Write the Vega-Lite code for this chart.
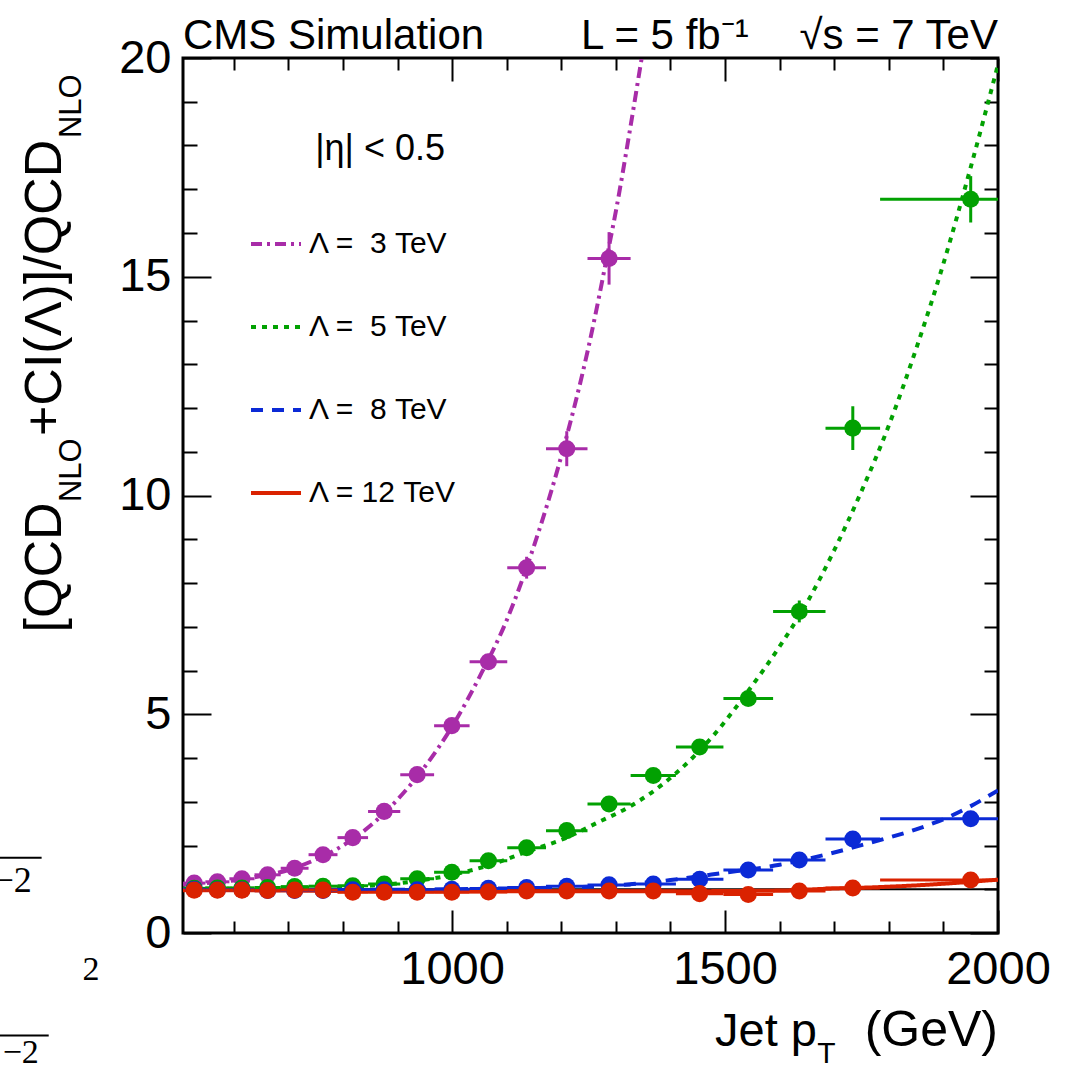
{
  "$schema": "https://vega.github.io/schema/vega-lite/v6.json",
  "width": 815,
  "height": 875,
  "autosize": "none",
  "padding": {"left": 183, "top": 58, "right": 74, "bottom": 139},
  "background": "white",
  "config": {
    "view": {"stroke": "black", "strokeWidth": 3},
    "font": "Liberation Sans",
    "axis": {"domain": false, "grid": false, "title": null, "tickColor": "black", "tickWidth": 2, "labelColor": "black", "labelFont": "Liberation Sans", "labelFlush": false, "labelOverlap": false, "format": "d"}
  },
  "datasets": {
    "one": [{"k": 1}],
    "pts": [
      {"s": "Λ = \u00a03 TeV", "x": 527.5, "xlo": 507, "xhi": 548, "y": 1.14, "ylo": 1.09, "yhi": 1.19},
      {"s": "Λ = \u00a03 TeV", "x": 570, "xlo": 548, "xhi": 592, "y": 1.17, "ylo": 1.12, "yhi": 1.22},
      {"s": "Λ = \u00a03 TeV", "x": 615, "xlo": 592, "xhi": 638, "y": 1.24, "ylo": 1.19, "yhi": 1.29},
      {"s": "Λ = \u00a03 TeV", "x": 662, "xlo": 638, "xhi": 686, "y": 1.33, "ylo": 1.28, "yhi": 1.38},
      {"s": "Λ = \u00a03 TeV", "x": 711.5, "xlo": 686, "xhi": 737, "y": 1.48, "ylo": 1.43, "yhi": 1.53},
      {"s": "Λ = \u00a03 TeV", "x": 763.5, "xlo": 737, "xhi": 790, "y": 1.79, "ylo": 1.73, "yhi": 1.85},
      {"s": "Λ = \u00a03 TeV", "x": 818, "xlo": 790, "xhi": 846, "y": 2.18, "ylo": 2.11, "yhi": 2.25},
      {"s": "Λ = \u00a03 TeV", "x": 875.5, "xlo": 846, "xhi": 905, "y": 2.78, "ylo": 2.7, "yhi": 2.86},
      {"s": "Λ = \u00a03 TeV", "x": 936, "xlo": 905, "xhi": 967, "y": 3.62, "ylo": 3.52, "yhi": 3.72},
      {"s": "Λ = \u00a03 TeV", "x": 999.5, "xlo": 967, "xhi": 1032, "y": 4.74, "ylo": 4.62, "yhi": 4.86},
      {"s": "Λ = \u00a03 TeV", "x": 1066.5, "xlo": 1032, "xhi": 1101, "y": 6.2, "ylo": 6.02, "yhi": 6.38},
      {"s": "Λ = \u00a03 TeV", "x": 1136.5, "xlo": 1101, "xhi": 1172, "y": 8.35, "ylo": 8.1, "yhi": 8.6},
      {"s": "Λ = \u00a03 TeV", "x": 1210, "xlo": 1172, "xhi": 1248, "y": 11.07, "ylo": 10.67, "yhi": 11.47},
      {"s": "Λ = \u00a03 TeV", "x": 1287.5, "xlo": 1248, "xhi": 1327, "y": 15.42, "ylo": 14.82, "yhi": 16.02},
      {"s": "Λ = \u00a05 TeV", "x": 527.5, "xlo": 507, "xhi": 548, "y": 1.02, "ylo": 0.98, "yhi": 1.06},
      {"s": "Λ = \u00a05 TeV", "x": 570, "xlo": 548, "xhi": 592, "y": 1.03, "ylo": 0.99, "yhi": 1.07},
      {"s": "Λ = \u00a05 TeV", "x": 615, "xlo": 592, "xhi": 638, "y": 1.03, "ylo": 0.99, "yhi": 1.07},
      {"s": "Λ = \u00a05 TeV", "x": 662, "xlo": 638, "xhi": 686, "y": 1.04, "ylo": 1.0, "yhi": 1.08},
      {"s": "Λ = \u00a05 TeV", "x": 711.5, "xlo": 686, "xhi": 737, "y": 1.06, "ylo": 1.02, "yhi": 1.1},
      {"s": "Λ = \u00a05 TeV", "x": 763.5, "xlo": 737, "xhi": 790, "y": 1.07, "ylo": 1.03, "yhi": 1.11},
      {"s": "Λ = \u00a05 TeV", "x": 818, "xlo": 790, "xhi": 846, "y": 1.08, "ylo": 1.04, "yhi": 1.12},
      {"s": "Λ = \u00a05 TeV", "x": 875.5, "xlo": 846, "xhi": 905, "y": 1.12, "ylo": 1.08, "yhi": 1.16},
      {"s": "Λ = \u00a05 TeV", "x": 936, "xlo": 905, "xhi": 967, "y": 1.24, "ylo": 1.19, "yhi": 1.29},
      {"s": "Λ = \u00a05 TeV", "x": 999.5, "xlo": 967, "xhi": 1032, "y": 1.39, "ylo": 1.34, "yhi": 1.44},
      {"s": "Λ = \u00a05 TeV", "x": 1066.5, "xlo": 1032, "xhi": 1101, "y": 1.65, "ylo": 1.59, "yhi": 1.71},
      {"s": "Λ = \u00a05 TeV", "x": 1136.5, "xlo": 1101, "xhi": 1172, "y": 1.95, "ylo": 1.88, "yhi": 2.02},
      {"s": "Λ = \u00a05 TeV", "x": 1210, "xlo": 1172, "xhi": 1248, "y": 2.34, "ylo": 2.26, "yhi": 2.42},
      {"s": "Λ = \u00a05 TeV", "x": 1287.5, "xlo": 1248, "xhi": 1327, "y": 2.95, "ylo": 2.86, "yhi": 3.04},
      {"s": "Λ = \u00a05 TeV", "x": 1368.5, "xlo": 1327, "xhi": 1410, "y": 3.6, "ylo": 3.5, "yhi": 3.7},
      {"s": "Λ = \u00a05 TeV", "x": 1453.5, "xlo": 1410, "xhi": 1497, "y": 4.25, "ylo": 4.13, "yhi": 4.37},
      {"s": "Λ = \u00a05 TeV", "x": 1542.5, "xlo": 1497, "xhi": 1588, "y": 5.36, "ylo": 5.21, "yhi": 5.51},
      {"s": "Λ = \u00a05 TeV", "x": 1636, "xlo": 1588, "xhi": 1684, "y": 7.35, "ylo": 7.1, "yhi": 7.6},
      {"s": "Λ = \u00a05 TeV", "x": 1734, "xlo": 1684, "xhi": 1784, "y": 11.54, "ylo": 11.04, "yhi": 12.04},
      {"s": "Λ = \u00a05 TeV", "x": 1950, "xlo": 1784, "xhi": 2116, "y": 16.77, "ylo": 16.24, "yhi": 17.3},
      {"s": "Λ = \u00a08 TeV", "x": 527.5, "xlo": 507, "xhi": 548, "y": 1.0, "ylo": 0.97, "yhi": 1.03},
      {"s": "Λ = \u00a08 TeV", "x": 570, "xlo": 548, "xhi": 592, "y": 0.99, "ylo": 0.96, "yhi": 1.02},
      {"s": "Λ = \u00a08 TeV", "x": 615, "xlo": 592, "xhi": 638, "y": 0.99, "ylo": 0.96, "yhi": 1.02},
      {"s": "Λ = \u00a08 TeV", "x": 662, "xlo": 638, "xhi": 686, "y": 0.97, "ylo": 0.94, "yhi": 1.0},
      {"s": "Λ = \u00a08 TeV", "x": 711.5, "xlo": 686, "xhi": 737, "y": 0.97, "ylo": 0.94, "yhi": 1.0},
      {"s": "Λ = \u00a08 TeV", "x": 763.5, "xlo": 737, "xhi": 790, "y": 0.97, "ylo": 0.94, "yhi": 1.0},
      {"s": "Λ = \u00a08 TeV", "x": 818, "xlo": 790, "xhi": 846, "y": 0.99, "ylo": 0.96, "yhi": 1.02},
      {"s": "Λ = \u00a08 TeV", "x": 875.5, "xlo": 846, "xhi": 905, "y": 0.99, "ylo": 0.96, "yhi": 1.02},
      {"s": "Λ = \u00a08 TeV", "x": 936, "xlo": 905, "xhi": 967, "y": 0.99, "ylo": 0.96, "yhi": 1.02},
      {"s": "Λ = \u00a08 TeV", "x": 999.5, "xlo": 967, "xhi": 1032, "y": 1.0, "ylo": 0.97, "yhi": 1.03},
      {"s": "Λ = \u00a08 TeV", "x": 1066.5, "xlo": 1032, "xhi": 1101, "y": 1.02, "ylo": 0.99, "yhi": 1.05},
      {"s": "Λ = \u00a08 TeV", "x": 1136.5, "xlo": 1101, "xhi": 1172, "y": 1.04, "ylo": 1.01, "yhi": 1.07},
      {"s": "Λ = \u00a08 TeV", "x": 1210, "xlo": 1172, "xhi": 1248, "y": 1.07, "ylo": 1.04, "yhi": 1.1},
      {"s": "Λ = \u00a08 TeV", "x": 1287.5, "xlo": 1248, "xhi": 1327, "y": 1.1, "ylo": 1.06, "yhi": 1.14},
      {"s": "Λ = \u00a08 TeV", "x": 1368.5, "xlo": 1327, "xhi": 1410, "y": 1.12, "ylo": 1.08, "yhi": 1.16},
      {"s": "Λ = \u00a08 TeV", "x": 1453.5, "xlo": 1410, "xhi": 1497, "y": 1.23, "ylo": 1.18, "yhi": 1.28},
      {"s": "Λ = \u00a08 TeV", "x": 1542.5, "xlo": 1497, "xhi": 1588, "y": 1.44, "ylo": 1.39, "yhi": 1.49},
      {"s": "Λ = \u00a08 TeV", "x": 1636, "xlo": 1588, "xhi": 1684, "y": 1.67, "ylo": 1.61, "yhi": 1.73},
      {"s": "Λ = \u00a08 TeV", "x": 1734, "xlo": 1684, "xhi": 1784, "y": 2.15, "ylo": 2.07, "yhi": 2.23},
      {"s": "Λ = \u00a08 TeV", "x": 1950, "xlo": 1784, "xhi": 2116, "y": 2.61, "ylo": 2.51, "yhi": 2.71},
      {"s": "Λ = 12 TeV", "x": 527.5, "xlo": 507, "xhi": 548, "y": 0.98, "ylo": 0.95, "yhi": 1.01},
      {"s": "Λ = 12 TeV", "x": 570, "xlo": 548, "xhi": 592, "y": 0.98, "ylo": 0.95, "yhi": 1.01},
      {"s": "Λ = 12 TeV", "x": 615, "xlo": 592, "xhi": 638, "y": 0.98, "ylo": 0.95, "yhi": 1.01},
      {"s": "Λ = 12 TeV", "x": 662, "xlo": 638, "xhi": 686, "y": 0.97, "ylo": 0.94, "yhi": 1.0},
      {"s": "Λ = 12 TeV", "x": 711.5, "xlo": 686, "xhi": 737, "y": 0.98, "ylo": 0.95, "yhi": 1.01},
      {"s": "Λ = 12 TeV", "x": 763.5, "xlo": 737, "xhi": 790, "y": 0.98, "ylo": 0.95, "yhi": 1.01},
      {"s": "Λ = 12 TeV", "x": 818, "xlo": 790, "xhi": 846, "y": 0.93, "ylo": 0.9, "yhi": 0.96},
      {"s": "Λ = 12 TeV", "x": 875.5, "xlo": 846, "xhi": 905, "y": 0.93, "ylo": 0.9, "yhi": 0.96},
      {"s": "Λ = 12 TeV", "x": 936, "xlo": 905, "xhi": 967, "y": 0.93, "ylo": 0.9, "yhi": 0.96},
      {"s": "Λ = 12 TeV", "x": 999.5, "xlo": 967, "xhi": 1032, "y": 0.93, "ylo": 0.9, "yhi": 0.96},
      {"s": "Λ = 12 TeV", "x": 1066.5, "xlo": 1032, "xhi": 1101, "y": 0.94, "ylo": 0.91, "yhi": 0.97},
      {"s": "Λ = 12 TeV", "x": 1136.5, "xlo": 1101, "xhi": 1172, "y": 0.96, "ylo": 0.93, "yhi": 0.99},
      {"s": "Λ = 12 TeV", "x": 1210, "xlo": 1172, "xhi": 1248, "y": 0.96, "ylo": 0.93, "yhi": 0.99},
      {"s": "Λ = 12 TeV", "x": 1287.5, "xlo": 1248, "xhi": 1327, "y": 0.96, "ylo": 0.93, "yhi": 0.99},
      {"s": "Λ = 12 TeV", "x": 1368.5, "xlo": 1327, "xhi": 1410, "y": 0.96, "ylo": 0.93, "yhi": 0.99},
      {"s": "Λ = 12 TeV", "x": 1453.5, "xlo": 1410, "xhi": 1497, "y": 0.9, "ylo": 0.87, "yhi": 0.93},
      {"s": "Λ = 12 TeV", "x": 1542.5, "xlo": 1497, "xhi": 1588, "y": 0.88, "ylo": 0.85, "yhi": 0.91},
      {"s": "Λ = 12 TeV", "x": 1636, "xlo": 1588, "xhi": 1684, "y": 0.96, "ylo": 0.93, "yhi": 0.99},
      {"s": "Λ = 12 TeV", "x": 1734, "xlo": 1684, "xhi": 1784, "y": 1.03, "ylo": 0.99, "yhi": 1.07},
      {"s": "Λ = 12 TeV", "x": 1950, "xlo": 1784, "xhi": 2116, "y": 1.21, "ylo": 1.16, "yhi": 1.26}
    ],
    "cv": [
      {"s": "Λ = \u00a03 TeV", "x": 507, "y": 1.1},
      {"s": "Λ = \u00a03 TeV", "x": 550, "y": 1.14},
      {"s": "Λ = \u00a03 TeV", "x": 600, "y": 1.2},
      {"s": "Λ = \u00a03 TeV", "x": 650, "y": 1.3},
      {"s": "Λ = \u00a03 TeV", "x": 700, "y": 1.44},
      {"s": "Λ = \u00a03 TeV", "x": 750, "y": 1.68},
      {"s": "Λ = \u00a03 TeV", "x": 800, "y": 2.0},
      {"s": "Λ = \u00a03 TeV", "x": 850, "y": 2.45},
      {"s": "Λ = \u00a03 TeV", "x": 900, "y": 3.05},
      {"s": "Λ = \u00a03 TeV", "x": 950, "y": 3.8},
      {"s": "Λ = \u00a03 TeV", "x": 1000, "y": 4.72},
      {"s": "Λ = \u00a03 TeV", "x": 1050, "y": 5.85},
      {"s": "Λ = \u00a03 TeV", "x": 1100, "y": 7.15},
      {"s": "Λ = \u00a03 TeV", "x": 1150, "y": 8.85},
      {"s": "Λ = \u00a03 TeV", "x": 1200, "y": 10.9},
      {"s": "Λ = \u00a03 TeV", "x": 1250, "y": 13.4},
      {"s": "Λ = \u00a03 TeV", "x": 1287.5, "y": 15.7},
      {"s": "Λ = \u00a03 TeV", "x": 1300, "y": 16.5},
      {"s": "Λ = \u00a03 TeV", "x": 1325, "y": 18.3},
      {"s": "Λ = \u00a03 TeV", "x": 1350, "y": 20.2},
      {"s": "Λ = \u00a03 TeV", "x": 1365, "y": 21.3},
      {"s": "Λ = \u00a05 TeV", "x": 507, "y": 1.01},
      {"s": "Λ = \u00a05 TeV", "x": 600, "y": 1.01},
      {"s": "Λ = \u00a05 TeV", "x": 700, "y": 1.02},
      {"s": "Λ = \u00a05 TeV", "x": 800, "y": 1.05},
      {"s": "Λ = \u00a05 TeV", "x": 870, "y": 1.1},
      {"s": "Λ = \u00a05 TeV", "x": 930, "y": 1.18},
      {"s": "Λ = \u00a05 TeV", "x": 1000, "y": 1.33},
      {"s": "Λ = \u00a05 TeV", "x": 1068, "y": 1.55},
      {"s": "Λ = \u00a05 TeV", "x": 1135, "y": 1.85},
      {"s": "Λ = \u00a05 TeV", "x": 1208, "y": 2.17},
      {"s": "Λ = \u00a05 TeV", "x": 1269, "y": 2.54},
      {"s": "Λ = \u00a05 TeV", "x": 1324, "y": 2.88},
      {"s": "Λ = \u00a05 TeV", "x": 1410, "y": 3.65},
      {"s": "Λ = \u00a05 TeV", "x": 1477, "y": 4.49},
      {"s": "Λ = \u00a05 TeV", "x": 1544, "y": 5.56},
      {"s": "Λ = \u00a05 TeV", "x": 1600, "y": 6.55},
      {"s": "Λ = \u00a05 TeV", "x": 1650, "y": 7.55},
      {"s": "Λ = \u00a05 TeV", "x": 1700, "y": 8.75},
      {"s": "Λ = \u00a05 TeV", "x": 1750, "y": 10.1},
      {"s": "Λ = \u00a05 TeV", "x": 1800, "y": 11.6},
      {"s": "Λ = \u00a05 TeV", "x": 1850, "y": 13.35},
      {"s": "Λ = \u00a05 TeV", "x": 1900, "y": 15.3},
      {"s": "Λ = \u00a05 TeV", "x": 1950, "y": 17.5},
      {"s": "Λ = \u00a05 TeV", "x": 2000, "y": 19.85},
      {"s": "Λ = \u00a08 TeV", "x": 507, "y": 1.0},
      {"s": "Λ = \u00a08 TeV", "x": 700, "y": 0.99},
      {"s": "Λ = \u00a08 TeV", "x": 900, "y": 0.99},
      {"s": "Λ = \u00a08 TeV", "x": 1000, "y": 1.0},
      {"s": "Λ = \u00a08 TeV", "x": 1100, "y": 1.02},
      {"s": "Λ = \u00a08 TeV", "x": 1200, "y": 1.04},
      {"s": "Λ = \u00a08 TeV", "x": 1300, "y": 1.09},
      {"s": "Λ = \u00a08 TeV", "x": 1400, "y": 1.21},
      {"s": "Λ = \u00a08 TeV", "x": 1450, "y": 1.29},
      {"s": "Λ = \u00a08 TeV", "x": 1500, "y": 1.38},
      {"s": "Λ = \u00a08 TeV", "x": 1550, "y": 1.46},
      {"s": "Λ = \u00a08 TeV", "x": 1600, "y": 1.56},
      {"s": "Λ = \u00a08 TeV", "x": 1650, "y": 1.69},
      {"s": "Λ = \u00a08 TeV", "x": 1700, "y": 1.84},
      {"s": "Λ = \u00a08 TeV", "x": 1750, "y": 2.01},
      {"s": "Λ = \u00a08 TeV", "x": 1800, "y": 2.18},
      {"s": "Λ = \u00a08 TeV", "x": 1850, "y": 2.37},
      {"s": "Λ = \u00a08 TeV", "x": 1900, "y": 2.6},
      {"s": "Λ = \u00a08 TeV", "x": 1950, "y": 2.9},
      {"s": "Λ = \u00a08 TeV", "x": 2000, "y": 3.26},
      {"s": "Λ = 12 TeV", "x": 507, "y": 0.98},
      {"s": "Λ = 12 TeV", "x": 700, "y": 0.97},
      {"s": "Λ = 12 TeV", "x": 800, "y": 0.96},
      {"s": "Λ = 12 TeV", "x": 1000, "y": 0.955},
      {"s": "Λ = 12 TeV", "x": 1200, "y": 0.955},
      {"s": "Λ = 12 TeV", "x": 1400, "y": 0.955},
      {"s": "Λ = 12 TeV", "x": 1600, "y": 0.97},
      {"s": "Λ = 12 TeV", "x": 1684, "y": 1.01},
      {"s": "Λ = 12 TeV", "x": 1784, "y": 1.05},
      {"s": "Λ = 12 TeV", "x": 1893, "y": 1.12},
      {"s": "Λ = 12 TeV", "x": 2000, "y": 1.22}
    ]
  },
  "resolve": {"axis": {"x": "independent", "y": "independent"}},
  "layer": [
    {
      "data": {"name": "one"},
      "mark": {"type": "rule", "color": "black", "strokeWidth": 2},
      "encoding": {
        "y": {"datum": 1, "type": "quantitative", "scale": {"domain": [0, 20], "nice": false, "zero": false}, "axis": null}
      }
    },
    {
      "data": {"name": "cv"},
      "mark": {"type": "line", "strokeWidth": 4, "clip": true, "interpolate": "monotone"},
      "encoding": {
        "x": {"field": "x", "type": "quantitative", "scale": {"domain": [507, 2000], "nice": false, "zero": false},
          "axis": {"orient": "bottom", "values": [1000, 1500, 2000], "tickSize": -23, "labelFontSize": 47, "labelPadding": 36, "format": "d"}},
        "y": {"field": "y", "type": "quantitative", "scale": {"domain": [0, 20], "nice": false, "zero": false},
          "axis": {"orient": "left", "values": [0, 5, 10, 15, 20], "tickSize": -28, "labelFontSize": 47, "labelPadding": 40, "format": "d"}},
        "color": {"field": "s", "type": "nominal",
          "scale": {"domain": ["Λ = \u00a03 TeV", "Λ = \u00a05 TeV", "Λ = \u00a08 TeV", "Λ = 12 TeV"], "range": ["#A82CA8", "#02A102", "#0B2AD6", "#DA2200"]},
          "legend": {"orient": "none", "legendX": 66, "legendY": 159, "title": null, "symbolType": "stroke", "symbolSize": 2500, "symbolStrokeWidth": 4, "labelFontSize": 30, "labelFont": "Liberation Sans", "labelColor": "black", "rowPadding": 41, "labelOffset": 6, "padding": 0, "labelLimit": 400}},
        "strokeDash": {"field": "s", "type": "nominal",
          "scale": {"domain": ["Λ = \u00a03 TeV", "Λ = \u00a05 TeV", "Λ = \u00a08 TeV", "Λ = 12 TeV"], "range": [[11, 5, 3, 5], [5, 6], [12, 9], [1, 0]]},
          "legend": {"orient": "none", "legendX": 66, "legendY": 159, "title": null, "symbolType": "stroke", "symbolSize": 2500, "symbolStrokeWidth": 4, "labelFontSize": 30, "labelFont": "Liberation Sans", "labelColor": "black", "rowPadding": 41, "labelOffset": 6, "padding": 0, "labelLimit": 400}}
      }
    },
    {
      "data": {"name": "pts"},
      "mark": {"type": "rule", "strokeWidth": 3, "clip": true},
      "encoding": {
        "x": {"field": "xlo", "type": "quantitative", "scale": {"domain": [507, 2000], "nice": false, "zero": false},
          "axis": {"orient": "top", "values": [1000, 1500, 2000], "tickSize": -23, "labels": false}},
        "x2": {"field": "xhi"},
        "y": {"field": "y", "type": "quantitative", "scale": {"domain": [0, 20], "nice": false, "zero": false},
          "axis": {"orient": "right", "values": [0, 5, 10, 15, 20], "tickSize": -28, "labels": false}},
        "color": {"field": "s", "type": "nominal", "legend": null}
      }
    },
    {
      "data": {"name": "pts"},
      "mark": {"type": "rule", "strokeWidth": 3, "clip": true},
      "encoding": {
        "x": {"field": "x", "type": "quantitative", "scale": {"domain": [507, 2000], "nice": false, "zero": false},
          "axis": {"orient": "top", "values": [600, 700, 800, 900, 1100, 1200, 1300, 1400, 1600, 1700, 1800, 1900], "tickSize": -12, "labels": false}},
        "y": {"field": "ylo", "type": "quantitative", "scale": {"domain": [0, 20], "nice": false, "zero": false},
          "axis": {"orient": "right", "values": [1, 2, 3, 4, 6, 7, 8, 9, 11, 12, 13, 14, 16, 17, 18, 19], "tickSize": -14, "labels": false}},
        "y2": {"field": "yhi"},
        "color": {"field": "s", "type": "nominal", "legend": null}
      }
    },
    {
      "data": {"name": "pts"},
      "mark": {"type": "circle", "size": 290, "opacity": 1, "clip": true},
      "encoding": {
        "x": {"field": "x", "type": "quantitative", "scale": {"domain": [507, 2000], "nice": false, "zero": false},
          "axis": {"orient": "bottom", "values": [600, 700, 800, 900, 1100, 1200, 1300, 1400, 1600, 1700, 1800, 1900], "tickSize": -12, "labels": false}},
        "y": {"field": "y", "type": "quantitative", "scale": {"domain": [0, 20], "nice": false, "zero": false},
          "axis": {"orient": "left", "values": [1, 2, 3, 4, 6, 7, 8, 9, 11, 12, 13, 14, 16, 17, 18, 19], "tickSize": -14, "labels": false}},
        "color": {"field": "s", "type": "nominal", "legend": null}
      }
    },
    {
      "data": {"name": "one"},
      "mark": {"type": "text", "text": "CMS Simulation", "align": "left", "baseline": "alphabetic", "dy": -9, "fontSize": 42, "font": "Liberation Sans", "color": "black"},
      "encoding": {"x": {"datum": 507, "type": "quantitative", "axis": null}, "y": {"datum": 20, "type": "quantitative", "axis": null}}
    },
    {
      "data": {"name": "one"},
      "mark": {"type": "text", "text": "L = 5 fb⁻¹", "align": "left", "baseline": "alphabetic", "dy": -9, "fontSize": 42, "font": "Liberation Sans", "color": "black"},
      "encoding": {"x": {"datum": 1236, "type": "quantitative", "axis": null}, "y": {"datum": 20, "type": "quantitative", "axis": null}}
    },
    {
      "data": {"name": "one"},
      "mark": {"type": "text", "text": "√s = 7 TeV", "align": "right", "baseline": "alphabetic", "dy": -9, "fontSize": 42, "font": "Liberation Sans", "color": "black"},
      "encoding": {"x": {"datum": 2000, "type": "quantitative", "axis": null}, "y": {"datum": 20, "type": "quantitative", "axis": null}}
    },
    {
      "data": {"name": "one"},
      "mark": {"type": "text", "text": "|η| < 0.5", "align": "center", "baseline": "alphabetic", "fontSize": 36, "font": "Liberation Sans", "color": "black"},
      "encoding": {"x": {"datum": 868, "type": "quantitative", "axis": null}, "y": {"datum": 17.66, "type": "quantitative", "axis": null}}
    },
    {
      "data": {"name": "one"},
      "mark": {"type": "text", "text": "[QCD", "align": "left", "baseline": "alphabetic", "angle": 270, "fontSize": 52, "font": "Liberation Sans", "color": "black"},
      "encoding": {"x": {"datum": 283.9, "type": "quantitative", "axis": null}, "y": {"datum": 6.87, "type": "quantitative", "axis": null}}
    },
    {
      "data": {"name": "one"},
      "mark": {"type": "text", "text": "NLO", "align": "left", "baseline": "alphabetic", "angle": 270, "fontSize": 31, "font": "Liberation Sans", "color": "black"},
      "encoding": {"x": {"datum": 320.5, "type": "quantitative", "axis": null}, "y": {"datum": 9.85, "type": "quantitative", "axis": null}}
    },
    {
      "data": {"name": "one"},
      "mark": {"type": "text", "text": "+CI(Λ)]/QCD", "align": "left", "baseline": "alphabetic", "angle": 270, "fontSize": 52, "font": "Liberation Sans", "color": "black"},
      "encoding": {"x": {"datum": 283.9, "type": "quantitative", "axis": null}, "y": {"datum": 11.36, "type": "quantitative", "axis": null}}
    },
    {
      "data": {"name": "one"},
      "mark": {"type": "text", "text": "NLO", "align": "left", "baseline": "alphabetic", "angle": 270, "fontSize": 31, "font": "Liberation Sans", "color": "black"},
      "encoding": {"x": {"datum": 320.5, "type": "quantitative", "axis": null}, "y": {"datum": 18.17, "type": "quantitative", "axis": null}}
    },
    {
      "data": {"name": "one"},
      "mark": {"type": "text", "text": "Jet p", "align": "left", "baseline": "alphabetic", "fontSize": 47, "font": "Liberation Sans", "color": "black"},
      "encoding": {"x": {"datum": 1481.7, "type": "quantitative", "axis": null}, "y": {"datum": -2.59, "type": "quantitative", "axis": null}}
    },
    {
      "data": {"name": "one"},
      "mark": {"type": "text", "text": "T", "align": "left", "baseline": "alphabetic", "fontSize": 30, "font": "Liberation Sans", "color": "black"},
      "encoding": {"x": {"datum": 1669, "type": "quantitative", "axis": null}, "y": {"datum": -2.96, "type": "quantitative", "axis": null}}
    },
    {
      "data": {"name": "one"},
      "mark": {"type": "text", "text": "(GeV)", "align": "right", "baseline": "alphabetic", "fontSize": 50, "font": "Liberation Sans", "color": "black"},
      "encoding": {"x": {"datum": 2000, "type": "quantitative", "axis": null}, "y": {"datum": -2.59, "type": "quantitative", "axis": null}}
    },
    {
      "data": {"name": "one"},
      "mark": {"type": "text", "text": "−2", "align": "right", "baseline": "alphabetic", "fontSize": 36, "font": "Liberation Serif", "color": "black"},
      "encoding": {"x": {"datum": 230, "type": "quantitative", "axis": null}, "y": {"datum": 0.94, "type": "quantitative", "axis": null}}
    },
    {
      "data": {"name": "one"},
      "mark": {"type": "text", "text": "2", "align": "left", "baseline": "alphabetic", "fontSize": 34, "font": "Liberation Serif", "color": "black"},
      "encoding": {"x": {"datum": 323, "type": "quantitative", "axis": null}, "y": {"datum": -1.08, "type": "quantitative", "axis": null}}
    },
    {
      "data": {"name": "one"},
      "mark": {"type": "text", "text": "−2", "align": "right", "baseline": "alphabetic", "fontSize": 34, "font": "Liberation Serif", "color": "black"},
      "encoding": {"x": {"datum": 243, "type": "quantitative", "axis": null}, "y": {"datum": -2.98, "type": "quantitative", "axis": null}}
    },
    {
      "data": {"name": "one"},
      "mark": {"type": "rule", "color": "black", "strokeWidth": 2},
      "encoding": {"x": {"datum": 170, "type": "quantitative", "axis": null}, "x2": {"datum": 248}, "y": {"datum": 1.72, "type": "quantitative", "axis": null}}
    },
    {
      "data": {"name": "one"},
      "mark": {"type": "rule", "color": "black", "strokeWidth": 2},
      "encoding": {"x": {"datum": 170, "type": "quantitative", "axis": null}, "x2": {"datum": 261}, "y": {"datum": -2.34, "type": "quantitative", "axis": null}}
    }
  ]
}
